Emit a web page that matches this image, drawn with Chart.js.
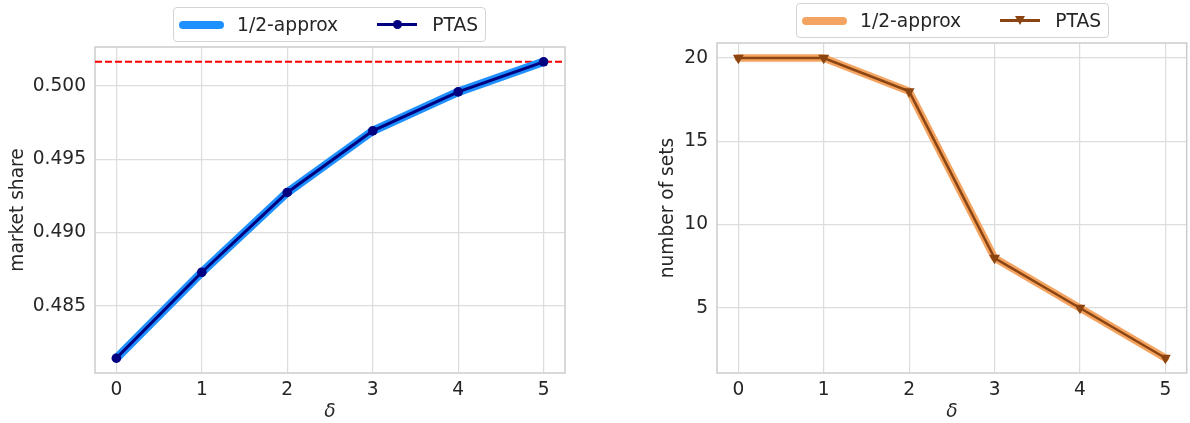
<!DOCTYPE html>
<html>
<head>
<meta charset="utf-8">
<script src="https://cdn.jsdelivr.net/npm/chart.js@4.4.0/dist/chart.umd.min.js"></script>
<style>
  html, body { margin: 0; padding: 0; background: #fff; overflow: hidden; }
  body { position: relative; width: 1190px; height: 423px; font-family: "DejaVu Sans", sans-serif; }
  canvas { position: absolute; top: 0; }
  #shareCanvas { left: 0; }
  #setsCanvas { left: 640px; }
  .legend {
    position: absolute; display: flex; align-items: center; height: 35px;
    box-sizing: border-box; padding: 0 7px 0 5px;
    border: 1px solid #d4d4d4; border-radius: 4px; background: rgba(255,255,255,0.8);
    font-size: 18.7px; color: #262626; white-space: nowrap; z-index: 2;
  }
  .thick { width: 45px; height: 8px; border-radius: 4px; margin-right: 13px; }
  .thin { position: relative; width: 40px; height: 20px; margin-right: 15px; }
  .thin .ln { position: absolute; left: 0; right: 0; top: 8.5px; height: 3px; }
  .thin .dot { position: absolute; left: 15.5px; top: 5.5px; width: 9px; height: 9px; border-radius: 50%; }
  .thin .tri { position: absolute; left: 14.5px; top: 5px; width: 0; height: 0;
    border-left: 5.5px solid transparent; border-right: 5.5px solid transparent; }
  .gap { width: 39px; }
</style>
</head>
<body>
<div class="legend" style="left:173px; top:7px;">
  <span class="thick" style="background:#1E90FF"></span><span>1/2-approx</span>
  <span class="gap"></span>
  <span class="thin"><span class="ln" style="background:#000080"></span><span class="dot" style="background:#000080"></span></span><span>PTAS</span>
</div>
<div class="legend" style="left:796px; top:3px;">
  <span class="thick" style="background:#F4A460"></span><span>1/2-approx</span>
  <span class="gap"></span>
  <span class="thin"><span class="ln" style="background:#8B4513; height:2.5px"></span><span class="tri" style="border-top:9px solid #8B4513"></span></span><span>PTAS</span>
</div>
<canvas id="shareCanvas" width="590" height="423"></canvas>
<canvas id="setsCanvas" width="553" height="423"></canvas>
<script>
// values
const deltas = [0, 1, 2, 3, 4, 5];
const approxShare = [0.48143, 0.48729, 0.49273, 0.49693, 0.49959, 0.50164];
const ptasShare = [0.48143, 0.48729, 0.49273, 0.49693, 0.49959, 0.50164];
const bestShare = 0.50164;
const approxSets = [20, 20, 18, 8, 5, 2];
const ptasSets = [20, 20, 18, 8, 5, 2];

const xTicks = [0, 1, 2, 3, 4, 5];
const shareTicks = [0.485, 0.490, 0.495, 0.500];
const setsTicks = [5, 10, 15, 20];

Chart.defaults.font.family = '"DejaVu Sans", sans-serif';
Chart.defaults.font.size = 18.6;
Chart.defaults.color = '#262626';

function points(ys) {
    return deltas.map((d, i) => ({ x: d, y: ys[i] }));
}

// matplotlib style 5% margins around the data
function padded(a, b) {
    const lo = Math.min(...a, ...b), hi = Math.max(...a, ...b);
    const m = (hi - lo) * 0.05;
    return [lo - m, hi + m];
}

const framePlugin = {
    id: 'frame',
    beforeDatasetsDraw(chart) {
        const { ctx, chartArea: a } = chart;
        ctx.save();
        ctx.strokeStyle = '#cccccc';
        ctx.lineWidth = 1.5;
        ctx.strokeRect(a.left, a.top, a.right - a.left, a.bottom - a.top);
        ctx.restore();
    }
};

const refLinePlugin = {
    id: 'refLine',
    beforeDatasetsDraw(chart, args, opts) {
        const { ctx, chartArea: a } = chart;
        const y = chart.scales.y.getPixelForValue(opts.value);
        ctx.save();
        ctx.strokeStyle = '#ff0000';
        ctx.lineWidth = 2;
        ctx.setLineDash([7, 3]);
        ctx.beginPath();
        ctx.moveTo(a.left, y);
        ctx.lineTo(a.right, y);
        ctx.stroke();
        ctx.restore();
    }
};

function makeChart(id, cfg) {
    const [yMin, yMax] = padded(cfg.approx, cfg.ptas);
    return new Chart(document.getElementById(id), {
        type: 'line',
        data: {
            datasets: [
                {
                    label: 'PTAS',
                    data: points(cfg.ptas),
                    borderColor: cfg.dark,
                    backgroundColor: cfg.dark,
                    borderWidth: cfg.thin,
                    pointStyle: cfg.marker,
                    pointRotation: cfg.rotation,
                    pointRadius: cfg.radius,
                    pointBorderWidth: 0,
                    order: 0
                },
                {
                    label: '1/2-approx',
                    data: points(cfg.approx),
                    borderColor: cfg.light,
                    backgroundColor: cfg.light,
                    borderWidth: cfg.thick,
                    borderCapStyle: 'round',
                    borderJoinStyle: 'round',
                    pointRadius: 0,
                    order: 1
                }
            ]
        },
        plugins: cfg.plugins,
        options: {
            responsive: false,
            animation: false,
            devicePixelRatio: 1,
            layout: { padding: { left: 0, top: cfg.top, right: cfg.right, bottom: 0 } },
            plugins: {
                legend: { display: false },
                tooltip: { enabled: false },
                refLine: { value: bestShare }
            },
            scales: {
                x: {
                    type: 'linear',
                    min: -0.25,
                    max: 5.25,
                    afterBuildTicks: s => { s.ticks = xTicks.map(v => ({ value: v })); },
                    afterFit: s => { s.height = 423 - 373; },
                    ticks: { padding: 6, autoSkip: false, maxRotation: 0, callback: v => String(v) },
                    grid: { color: '#dddddd', lineWidth: 1.2, drawTicks: false },
                    border: { display: false },
                    title: { display: true, text: 'δ', font: { style: 'italic', size: 18.6 }, padding: { top: 0, bottom: 0 } }
                },
                y: {
                    type: 'linear',
                    min: yMin,
                    max: yMax,
                    afterBuildTicks: s => { s.ticks = cfg.yTicks.map(v => ({ value: v })); },
                    afterFit: s => { s.width = cfg.axisWidth; },
                    ticks: { padding: 9, callback: cfg.fmt },
                    grid: { color: '#dddddd', lineWidth: 1.2, drawTicks: false },
                    border: { display: false },
                    title: { display: true, text: cfg.yTitle, padding: { top: cfg.titlePad, bottom: 0 } }
                }
            }
        }
    });
}

makeChart('shareCanvas', {
    approx: approxShare, ptas: ptasShare,
    light: '#1E90FF', dark: '#000080',
    thick: 8.5, thin: 3,
    marker: 'circle', rotation: 0, radius: 4.8,
    yTicks: shareTicks, fmt: v => v.toFixed(3),
    yTitle: 'market share', titlePad: 7,
    top: 47, right: 590 - 565, axisWidth: 95,
    plugins: [framePlugin, refLinePlugin]
});

makeChart('setsCanvas', {
    approx: approxSets, ptas: ptasSets,
    light: '#F4A460', dark: '#8B4513',
    thick: 7.5, thin: 2.5,
    marker: 'triangle', rotation: 180, radius: 6.3,
    yTicks: setsTicks, fmt: v => String(v),
    yTitle: 'number of sets', titlePad: 17,
    top: 43, right: 0, axisWidth: 77,
    plugins: [framePlugin]
});
</script>
</body>
</html>
